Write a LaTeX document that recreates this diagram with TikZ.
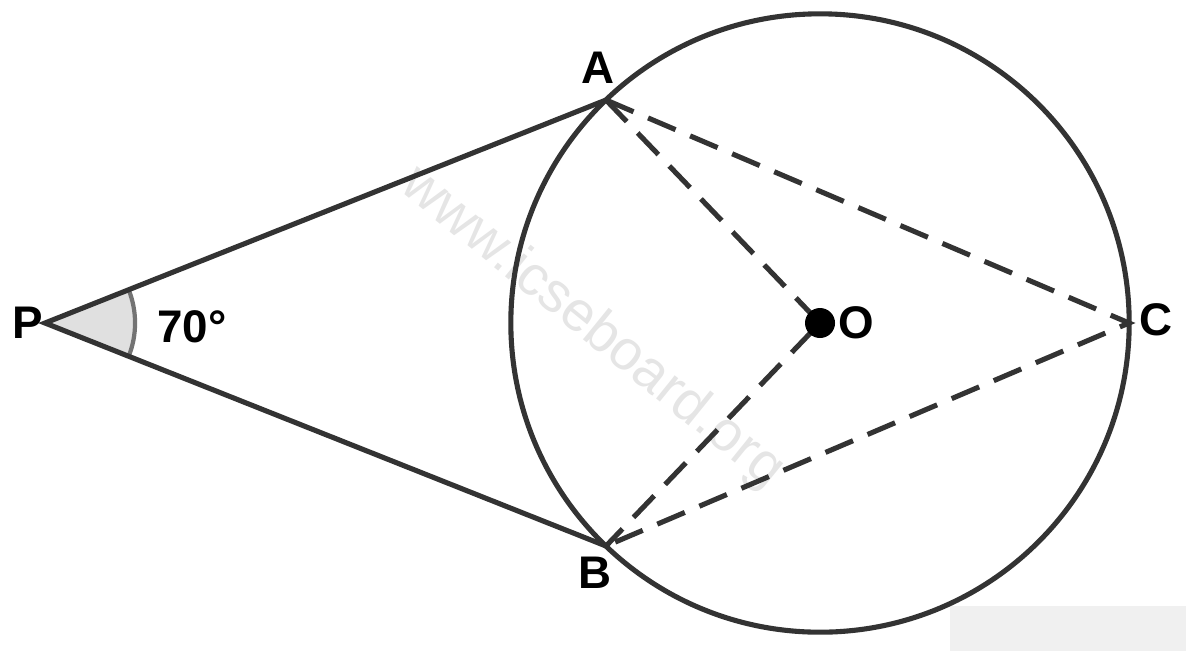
\documentclass[tikz,border=0pt]{standalone}
\usepackage{fontspec}
\setmainfont{Liberation Sans}
\usetikzlibrary{calc}
\tikzset{
  solidline/.style={line width=1.45pt, draw=black!80},
  dashline/.style={line width=1.45pt, draw=black!80, dash pattern=on 8.5pt off 4.5pt},
  lbl/.style={font=\bfseries\fontsize{13}{13}\selectfont}
}
\begin{document}
\begin{tikzpicture}[x=0.01cm, y=-0.01cm]
    \useasboundingbox (0,0) rectangle (1186,651);
    \fill[black!6] (950,606) rectangle (1186,651);
    \coordinate (P) at (45,323);
    \coordinate (O) at (820,323);
    \coordinate (A) at (606,100);
    \coordinate (B) at (606,546);
    \coordinate (C) at (1129,323);

    % angle at P
    \fill[black!12] (P) -- ($(P)!0.9cm!(A)$) arc[start angle=21.7, end angle=-21.7, radius=0.9cm] -- cycle;
    \draw[line width=1.2pt, black!55] ($(P)!0.9cm!(A)$) arc[start angle=21.7, end angle=-21.7, radius=0.9cm];

    \node[rotate=-39, text=black!10, font=\fontsize{16}{16}\selectfont] (wm) at (592,328) {www.icseboard.org};

    \draw[solidline] (O) circle[radius=3.09cm];
    \draw[solidline] (A) -- (P) -- (B);
    \draw[dashline] (A) -- (O) -- (B);
    \draw[dashline] (A) -- (C) -- (B);
    \fill[black] (O) circle[radius=0.15cm];

    \node[lbl] (lP) at (28,323) {P};
    \node[lbl] (lA) at (598,68) {A};
    \node[lbl] (lB) at (595,573) {B};
    \node[lbl] (lC) at (1156,320) {C};
    \node[lbl] (lO) at (856,323) {O};
    \node[lbl] (l70) at (192,327) {70°};
\end{tikzpicture}
\end{document}
